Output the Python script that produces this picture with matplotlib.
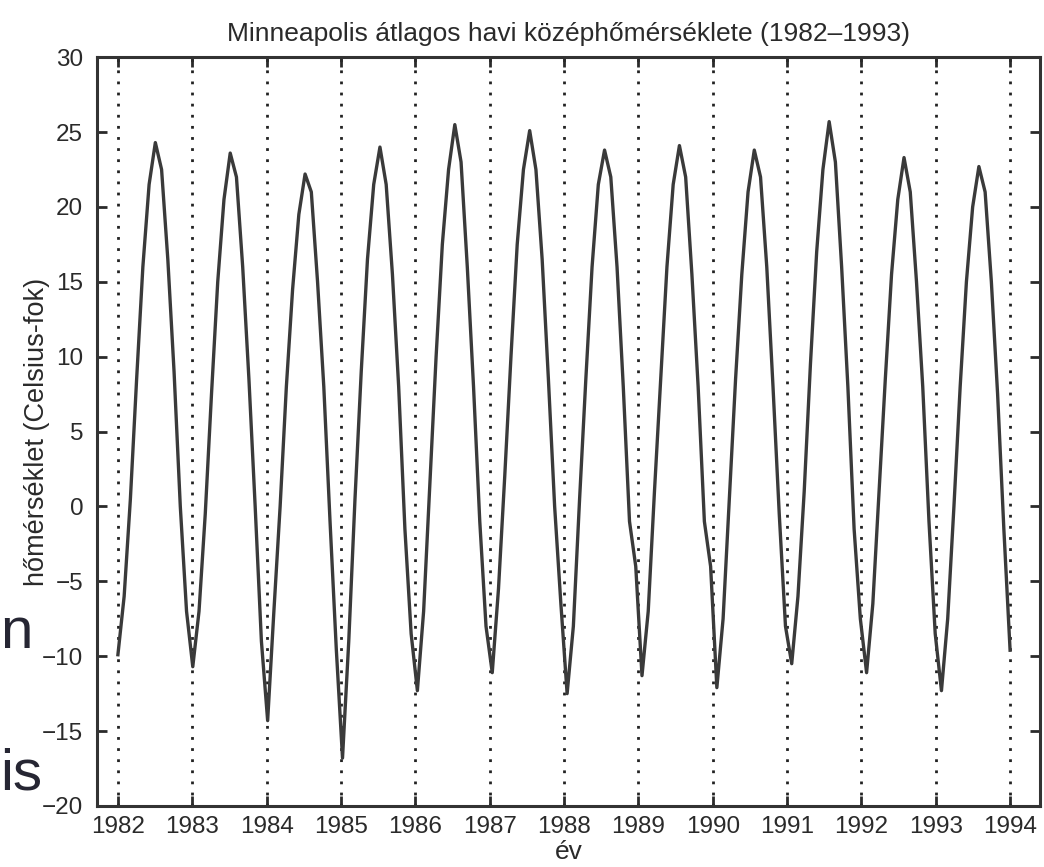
import numpy as np
import matplotlib
matplotlib.use('Agg')
import matplotlib.pyplot as plt

plt.rcParams['font.family'] = ['Liberation Sans', 'DejaVu Sans']

# monthly mean temperatures (Celsius), Jan..Dec
temp_1982 = [-9.9, -6.0, 0.5, 8.5, 16.0, 21.5, 24.3, 22.5, 16.5, 9.0, 0.0, -7.0]
temp_1983 = [-10.7, -7.0, -0.5, 7.5, 15.0, 20.5, 23.6, 22.0, 16.0, 8.5, 0.0, -9.0]
temp_1984 = [-14.3, -7.0, 0.0, 8.0, 14.5, 19.5, 22.2, 21.0, 15.0, 8.0, -1.0, -9.5]
temp_1985 = [-16.8, -9.0, 0.5, 9.0, 16.5, 21.5, 24.0, 21.5, 15.5, 8.0, -1.5, -8.5]
temp_1986 = [-12.3, -7.0, 1.5, 10.0, 17.5, 22.5, 25.5, 23.0, 16.0, 8.0, -1.0, -8.0]
temp_1987 = [-11.1, -5.5, 2.0, 10.0, 17.5, 22.5, 25.1, 22.5, 16.5, 8.5, 0.0, -6.5]
temp_1988 = [-12.5, -8.0, 0.5, 8.5, 16.0, 21.5, 23.8, 22.0, 16.0, 8.0, -1.0, -4.0]
temp_1989 = [-11.3, -7.0, 1.0, 8.5, 16.0, 21.5, 24.1, 22.0, 15.5, 8.0, -1.0, -4.0]
temp_1990 = [-12.1, -7.5, 0.5, 8.5, 15.5, 21.0, 23.8, 22.0, 16.0, 8.0, -0.5, -8.0]
temp_1991 = [-10.5, -6.0, 1.0, 9.5, 17.0, 22.5, 25.7, 23.0, 16.0, 8.0, -1.5, -7.5]
temp_1992 = [-11.1, -6.5, 1.0, 8.5, 15.5, 20.5, 23.3, 21.0, 15.0, 8.0, -1.0, -8.5]
temp_1993 = [-12.3, -7.5, 0.0, 8.0, 15.0, 20.0, 22.7, 21.0, 15.0, 7.5, -1.5, -9.6]

years = list(range(1982, 1995))
yticks = list(range(-20, 31, 5))

title = 'Minneapolis átlagos havi középhőmérséklete (1982\u20131993)'
xlabel = 'év'
ylabel = 'hőmérséklet (Celsius-fok)'

temps = np.concatenate([temp_1982, temp_1983, temp_1984, temp_1985, temp_1986, temp_1987,
                        temp_1988, temp_1989, temp_1990, temp_1991, temp_1992, temp_1993])
t = np.linspace(years[0], years[-1], len(temps))

fig = plt.figure(figsize=(10.44, 8.67), dpi=100)
ax = fig.add_axes([0.093, 0.0704, 0.903, 0.8636])

for yr in years:
    ax.axvline(yr, color='#222222', lw=2.0, linestyle=(0, (1, 3)), zorder=1)
ax.plot(t, temps, color='#3a3a3a', lw=2.4, zorder=2)

ax.set_xlim(1981.72, 1994.4)
ax.set_ylim(-20, 30)
ax.set_xticks(years)
ax.set_yticks(yticks)

for s in ax.spines.values():
    s.set_linewidth(2.2)
    s.set_color('#333333')
ax.tick_params(direction='in', length=7, width=2, colors='#2a2a2a', labelsize=17.5,
               top=True, right=True)
ax.tick_params(axis='y', pad=10)
ax.tick_params(axis='x', pad=7)

ax.set_title(title, fontsize=19, color='#2a2a2a', pad=12)
ax.set_xlabel(xlabel, fontsize=19, color='#2a2a2a', labelpad=2)
ax.set_ylabel(ylabel, fontsize=19.5, color='#2a2a2a', labelpad=-6)

# fragments of the slide text next to the chart
fig.text(0.0, 1 - 648 / 867, 'n', fontsize=42, color='#262633', va='baseline')
fig.text(0.0, 1 - 790 / 867, 'is', fontsize=42, color='#262633', va='baseline')

fig.savefig('out.png', dpi=100)
